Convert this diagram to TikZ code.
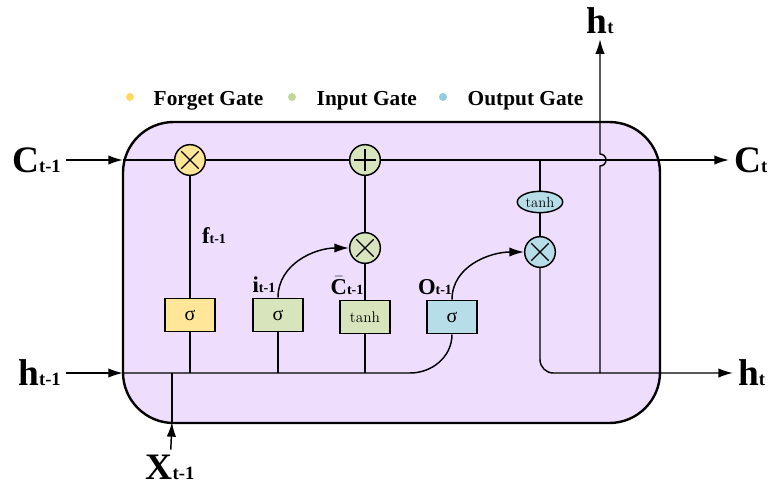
\documentclass[tikz,border=0pt]{standalone}
\usepackage{fontspec}
\newfontfamily\tnr{Liberation Serif}
\usetikzlibrary{arrows.meta,shapes.geometric}

\definecolor{cellfill}{HTML}{EEDDFC}
\definecolor{forgetfill}{HTML}{FFE699}
\definecolor{inputfill}{HTML}{D8E4BC}
\definecolor{outputfill}{HTML}{B7DEE8}
\definecolor{forgetdot}{HTML}{FFD966}
\definecolor{inputdot}{HTML}{C3D69B}
\definecolor{outputdot}{HTML}{92CDDC}

\newcommand{\biglbl}[2]{{\tnr\bfseries\fontsize{28}{28}\selectfont #1\fontsize{14}{14}\selectfont #2}}
\newcommand{\smlbl}[2]{{\tnr\bfseries\fontsize{17}{17}\selectfont #1\fontsize{10.5}{10.5}\selectfont #2}}
\newcommand{\sig}{{\tnr\fontsize{15}{15}\selectfont σ}}

\begin{document}
\begin{tikzpicture}[x=0.75pt,y=0.75pt,>={Latex[length=11pt,width=7pt]},line width=1.1pt,
    gate/.style={circle,draw,minimum size=23pt,inner sep=0pt},
    mult/.style={gate,path picture={
        \draw[line width=1pt] ([shift={(-6.5pt,-6.5pt)}]path picture bounding box.center) -- ([shift={(6.5pt,6.5pt)}]path picture bounding box.center)
        ([shift={(-6.5pt,6.5pt)}]path picture bounding box.center) -- ([shift={(6.5pt,-6.5pt)}]path picture bounding box.center);}},
    add/.style={gate,path picture={
        \draw[line width=1pt] ([shift={(-8.5pt,0pt)}]path picture bounding box.center) -- ([shift={(8.5pt,0pt)}]path picture bounding box.center)
        ([shift={(0pt,8.5pt)}]path picture bounding box.center) -- ([shift={(0pt,-8.5pt)}]path picture bounding box.center);}},
    sigbox/.style={rectangle,draw,minimum width=37.5pt,minimum height=25pt,inner sep=0pt},
    legdot/.style={circle,inner sep=0pt,minimum size=6pt},
    legtxt/.style={anchor=base west,inner sep=0pt,font=\tnr\bfseries\fontsize{16}{16}\selectfont}]

    \useasboundingbox (0,0) rectangle (768,487);

    % cell
    \draw[line width=1.8pt,fill=cellfill,rounded corners=38pt] (123,64) rectangle (660,365);

    % legend
    \node[legdot,fill=forgetdot] (lf) at (130,390) {};
    \node[legtxt] (lft) at (153,382) {Forget Gate};
    \node[legdot,fill=inputdot] (li) at (292,390) {};
    \node[legtxt] (lit) at (316,382) {Input Gate};
    \node[legdot,fill=outputdot] (lo) at (443,390) {};
    \node[legtxt] (lot) at (467,382) {Output Gate};

    % gates
    \node[mult,fill=forgetfill] (fx) at (190,327) {};
    \node[add,fill=inputfill] (ca) at (365,327) {};
    \node[mult,fill=inputfill] (ix) at (365,239) {};
    \node[mult,fill=outputfill] (ox) at (540,235) {};
    \node[ellipse,draw,fill=outputfill,minimum width=34pt,minimum height=16pt,inner sep=0pt,font=\fontsize{11}{11}\selectfont] (ot) at (540,285) {tanh};

    \node[sigbox,fill=forgetfill] (fs) at (190,172) {\sig};
    \node[sigbox,fill=inputfill] (is) at (278,172) {\sig};
    \node[sigbox,fill=inputfill,font=\fontsize{11.5}{11.5}\selectfont] (ct) at (365,170) {tanh};
    \node[sigbox,fill=outputfill] (os) at (452,170) {\sig};

    % labels
    \node[anchor=east] (cin) at (66,327) {\biglbl{C}{t-1}};
    \node[anchor=east] (hin) at (66,114) {\biglbl{h}{t-1}};
    \node[anchor=west] (cout) at (729,327) {\biglbl{C}{t}};
    \node[anchor=west] (hout) at (733,114) {\biglbl{h}{t}};
    \node (htop) at (600,466) {\biglbl{h}{t}};
    \node (xin) at (170,20) {\biglbl{X}{t-1}};

    \node (fl) at (214,251) {\smlbl{f}{t-1}};
    \node (il) at (264,202) {\smlbl{i}{t-1}};
    \node (cl2) at (347,201) {\smlbl{$\bar{\mbox{C}}$}{t-1}};
    \node (ol) at (435,200) {\smlbl{O}{t-1}};

    \coordinate (cl) at (123,327);
    \coordinate (hl) at (123,114);
    \coordinate (xl) at (172,65);
    \coordinate (hc) at (410,114);
    \coordinate (ctap) at (540,327);
    \coordinate (hj) at (600,114);

    % cell state
    \draw[->] (cin) -- (cl);
    \draw (cl) -- (fx) -- (ca);
    \draw[->] (ca) -- (cout);

    % hidden input
    \draw[->] (hin) -- (hl);
    \draw (hl) -- (hc) to[out=0,in=-90] (os.south);
    \draw[->] (xin) -- (xl);
    \draw (xl) -- (xl |- hl);
    \draw (fs.south) -- (fs.south |- hl);
    \draw (is.south) -- (is.south |- hl);
    \draw (ct.south) -- (ct.south |- hl);

    % gates to state
    \draw (fs) -- (fx);
    \draw (ct) -- (ix);
    \draw (ix) -- (ca);
    \draw[->] (is.north) to[out=90,in=180] (ix);
    \draw[->] (os.north) to[out=90,in=180] (ox);

    % output
    \draw (ctap) -- (ot);
    \draw (ot) -- (ox);
    \draw[->,rounded corners=10pt] (ox.south) |- (hout);
    \draw[->] (hj) -- (600,321) arc[start angle=-90,end angle=90,radius=4.5pt] -- (htop);

\end{tikzpicture}
\end{document}
